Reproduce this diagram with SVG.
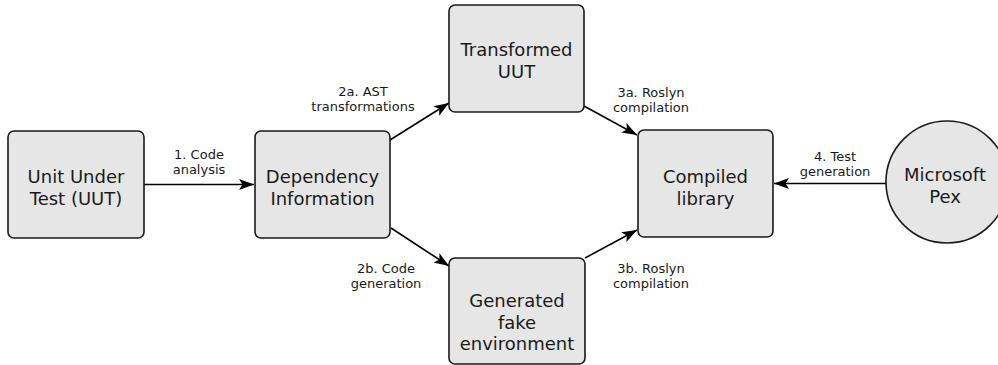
<svg xmlns="http://www.w3.org/2000/svg" width="998" height="365" viewBox="0 0 998 365">
<defs>
<style>
.box{fill:#e6e6e6;stroke:#1a1a1a;stroke-width:1.6}
.nt{font-family:"DejaVu Sans","Liberation Sans",sans-serif;font-size:18px;fill:#1a1a1a;text-anchor:middle}
.lt{font-family:"DejaVu Sans","Liberation Sans",sans-serif;font-size:13px;fill:#1a1a1a;text-anchor:middle}
.edge{stroke:#000;stroke-width:1.6;fill:none;marker-end:url(#arr)}
</style>
<marker id="arr" markerUnits="userSpaceOnUse" markerWidth="16" markerHeight="12" refX="15" refY="6" orient="auto" viewBox="0 0 16 12">
<path d="M0,0.5 L15,6 L0,11.5 L3.5,6 Z" fill="#000"/>
</marker>
</defs>
<rect width="998" height="365" fill="#fff"/>
<g id="connectors">
<line class="edge" x1="144" y1="184.5" x2="254" y2="184.5"/>
<line class="edge" x1="390" y1="140" x2="449" y2="103"/>
<line class="edge" x1="584" y1="106" x2="637" y2="135"/>
<line class="edge" x1="391" y1="228" x2="449" y2="266"/>
<line class="edge" x1="585" y1="258" x2="637" y2="230"/>
<line class="edge" x1="886" y1="183.5" x2="774" y2="183.5"/>
<text class="lt" x="199" y="159">1. Code<tspan x="199" dy="15.4">analysis</tspan></text>
<text class="lt" x="363" y="96">2a. AST<tspan x="363" dy="15.4">transformations</tspan></text>
<text class="lt" x="651" y="96.5">3a. Roslyn<tspan x="651" dy="15.4">compilation</tspan></text>
<text class="lt" x="386" y="273">2b. Code<tspan x="386" dy="15.4">generation</tspan></text>
<text class="lt" x="651" y="273">3b. Roslyn<tspan x="651" dy="15.4">compilation</tspan></text>
<text class="lt" x="835" y="161">4. Test<tspan x="835" dy="15.4">generation</tspan></text>
</g>
<g id="uut">
<rect class="box" x="8" y="131" width="136" height="107" rx="6"/>
<text class="nt" x="76" y="183">Unit Under<tspan x="76" dy="22">Test (UUT)</tspan></text>
</g>
<g id="dependency">
<rect class="box" x="255" y="131" width="135" height="107" rx="6"/>
<text class="nt" x="322.5" y="183">Dependency<tspan x="322.5" dy="22">Information</tspan></text>
</g>
<g id="transformed">
<rect class="box" x="449" y="5" width="135" height="107" rx="6"/>
<text class="nt" x="516.5" y="56">Transformed<tspan x="516.5" dy="21.7">UUT</tspan></text>
</g>
<g id="generated">
<rect class="box" x="449" y="258" width="136" height="106" rx="6"/>
<text class="nt" x="517" y="307">Generated<tspan x="517" dy="21.7">fake</tspan><tspan x="517" dy="21.7">environment</tspan></text>
</g>
<g id="compiled">
<rect class="box" x="638" y="130" width="135" height="107" rx="6"/>
<text class="nt" x="705.5" y="183">Compiled<tspan x="705.5" dy="22">library</tspan></text>
</g>
<g id="pex">
<circle class="box" cx="947" cy="182" r="61"/>
<text class="nt" x="945" y="181">Microsoft<tspan x="945" dy="21.7">Pex</tspan></text>
</g>
</svg>
